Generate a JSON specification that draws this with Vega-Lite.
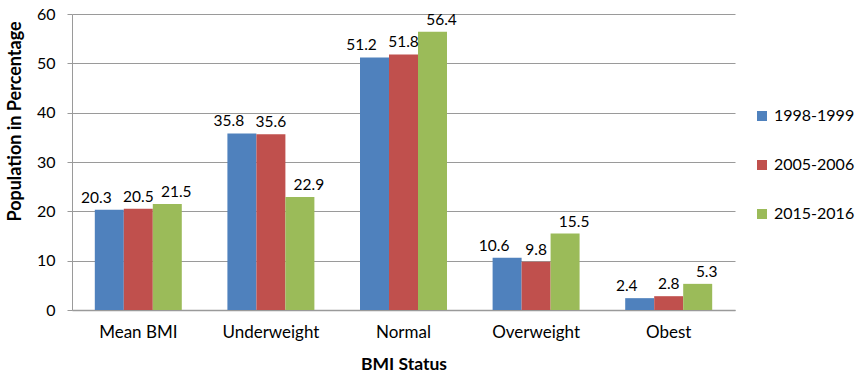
{
  "$schema": "https://vega.github.io/schema/vega-lite/v6.json",
  "width": 663,
  "height": 296,
  "autosize": "none",
  "padding": {"left": 72, "top": 14, "right": 127, "bottom": 64},
  "background": "white",
  "config": {
    "font": "Lato",
    "view": {"stroke": null}
  },
  "data": {
    "values": [
      {"status": "Mean BMI", "period": "1998-1999", "pct": 20.3},
      {"status": "Mean BMI", "period": "2005-2006", "pct": 20.5},
      {"status": "Mean BMI", "period": "2015-2016", "pct": 21.5},
      {"status": "Underweight", "period": "1998-1999", "pct": 35.8},
      {"status": "Underweight", "period": "2005-2006", "pct": 35.6},
      {"status": "Underweight", "period": "2015-2016", "pct": 22.9},
      {"status": "Normal", "period": "1998-1999", "pct": 51.2},
      {"status": "Normal", "period": "2005-2006", "pct": 51.8},
      {"status": "Normal", "period": "2015-2016", "pct": 56.4},
      {"status": "Overweight", "period": "1998-1999", "pct": 10.6},
      {"status": "Overweight", "period": "2005-2006", "pct": 9.8},
      {"status": "Overweight", "period": "2015-2016", "pct": 15.5},
      {"status": "Obest", "period": "1998-1999", "pct": 2.4},
      {"status": "Obest", "period": "2005-2006", "pct": 2.8},
      {"status": "Obest", "period": "2015-2016", "pct": 5.3}
    ]
  },
  "encoding": {
    "x": {
      "field": "status",
      "type": "nominal",
      "sort": ["Mean BMI", "Underweight", "Normal", "Overweight", "Obest"],
      "scale": {"paddingInner": 0.344, "paddingOuter": 0.172},
      "axis": {
        "title": "BMI Status",
        "titleFontSize": 17.5,
        "titleFontWeight": "bold",
        "titleColor": "#000000",
        "titleBaseline": "alphabetic",
        "titleY": 59,
        "labelAngle": 0,
        "labelFontSize": 17,
        "labelColor": "#000000",
        "labelPadding": 14,
        "ticks": false,
        "domainColor": "#9a9a9a",
        "domainWidth": 1.5,
        "grid": false
      }
    },
    "xOffset": {
      "field": "period",
      "type": "nominal",
      "scale": {"domain": ["1998-1999", "2005-2006", "2015-2016"], "paddingInner": 0, "paddingOuter": 0}
    },
    "y": {
      "field": "pct",
      "type": "quantitative",
      "scale": {"domain": [0, 60], "nice": false},
      "axis": {
        "title": "Population in Percentage",
        "titleFontSize": 18,
        "titleFontWeight": "bold",
        "titleColor": "#000000",
        "titleAngle": 270,
        "titleAlign": "center",
        "titleBaseline": "middle",
        "titleX": -57,
        "titleY": 107,
        "values": [0, 10, 20, 30, 40, 50, 60],
        "labelFontSize": 16,
        "labelColor": "#000000",
        "labelPadding": 12,
        "tickSize": 5,
        "tickColor": "#9a9a9a",
        "domainColor": "#9a9a9a",
        "gridColor": "#9a9a9a",
        "gridWidth": 1
      }
    }
  },
  "layer": [
    {
      "mark": {"type": "bar"},
      "encoding": {
        "color": {
          "field": "period",
          "type": "nominal",
          "scale": {
            "domain": ["1998-1999", "2005-2006", "2015-2016"],
            "range": ["#4F81BD", "#C0504D", "#9BBB59"]
          },
          "legend": {
            "title": null,
            "orient": "none",
            "legendX": 682,
            "legendY": 94,
            "symbolType": "square",
            "symbolSize": 100,
            "symbolStrokeWidth": 0,
            "labelFontSize": 16,
            "labelColor": "#000000",
            "labelOffset": 4,
            "rowPadding": 33
          }
        }
      }
    },
    {
      "transform": [{"filter": "datum.period === '1998-1999'"}],
      "mark": {"type": "text", "baseline": "alphabetic", "dy": -7, "dx": -13, "fontSize": 15.5, "color": "#000000"},
      "encoding": {"text": {"field": "pct", "type": "quantitative", "format": ".1f"}}
    },
    {
      "transform": [{"filter": "datum.period === '2005-2006'"}],
      "mark": {"type": "text", "baseline": "alphabetic", "dy": -7, "fontSize": 15.5, "color": "#000000"},
      "encoding": {"text": {"field": "pct", "type": "quantitative", "format": ".1f"}}
    },
    {
      "transform": [{"filter": "datum.period === '2015-2016'"}],
      "mark": {"type": "text", "baseline": "alphabetic", "dy": -7, "dx": 9, "fontSize": 15.5, "color": "#000000"},
      "encoding": {"text": {"field": "pct", "type": "quantitative", "format": ".1f"}}
    }
  ]
}
